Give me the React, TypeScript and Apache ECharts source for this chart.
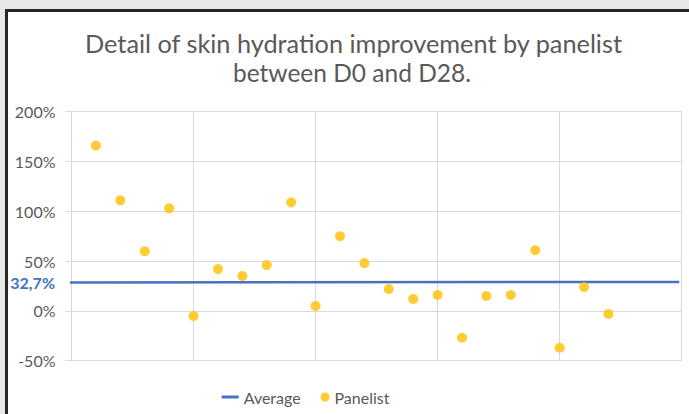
import React, { useEffect, useRef } from "react";
import * as echarts from "echarts";

const titleLines = ["Detail of skin hydration improvement by panelist", "between D0 and D28."];
const panelistIds = [1, 2, 3, 4, 5, 6, 7, 8, 9, 10, 11, 12, 13, 14, 15, 16, 17, 18, 19, 20, 21, 22];
const panelistValues = [166, 111, 60, 103, -5, 42, 35, 46, 109, 5, 75, 48, 22, 12, 16, -27, 15, 16, 61, -37, 24, -3];
const averageLineX = [-0.13, 24.9];
const averageLineY = [28.6, 29.1];
const averageLabel = "32,7%";
const yMin = -50;
const yMax = 200;
const yStep = 50;
const xMin = 0;
const xMax = 25;
const xStep = 5;

const FONT = "Lato, 'Noto Sans', sans-serif";
const GREY = "#595959";
const BLUE = "#4472C4";
const GOLD = "#FFC000";
const GRID = "#d9d9d9";

export default function App() {
  const ref = useRef<HTMLDivElement>(null);
  useEffect(() => {
    if (!ref.current) return;
    const chart = echarts.init(ref.current, undefined, { renderer: "svg" });
    const scatterData = panelistIds.map((id, i) => [id, panelistValues[i]]);
    const lineData = averageLineX.map((x, i) => [x, averageLineY[i]]);
    chart.setOption({
      animation: false,
      backgroundColor: "transparent",
      textStyle: { fontFamily: FONT },
      grid: { left: 71.5, right: 7.3, top: 111.7, bottom: 53.3, containLabel: false },
      xAxis: {
        type: "value",
        min: xMin,
        max: xMax,
        interval: xStep,
        axisLabel: { show: false },
        axisTick: { show: false },
        axisLine: { show: true, lineStyle: { color: GRID, width: 1 } },
        splitLine: { show: true, lineStyle: { color: GRID, width: 1 } },
      },
      yAxis: {
        type: "value",
        min: yMin,
        max: yMax,
        interval: yStep,
        axisLabel: {
          formatter: "{value}%",
          color: GREY,
          fontSize: 16,
          fontFamily: FONT,
          margin: 16,
        },
        axisTick: { show: true, length: 6, lineStyle: { color: GRID } },
        axisLine: { show: true, lineStyle: { color: GRID, width: 1 } },
        splitLine: { show: true, lineStyle: { color: GRID, width: 1 } },
      },
      legend: [
        {
          data: [{ name: "Average", icon: "rect" }],
          left: 221.7,
          top: 389,
          itemWidth: 17,
          itemHeight: 3,
          itemGap: 5,
          textStyle: { color: GREY, fontSize: 16, fontFamily: FONT },
          padding: 0,
          selectedMode: false,
        },
        {
          data: [{ name: "Panelist", icon: "circle" }],
          left: 320.5,
          top: 389,
          itemWidth: 9,
          itemHeight: 9,
          textStyle: { color: GREY, fontSize: 16, fontFamily: FONT },
          padding: 0,
          selectedMode: false,
        },
      ],
      graphic: [
        {
          type: "text",
          x: 353.5,
          y: 43,
          style: {
            text: titleLines[0],
            fill: GREY,
            font: `normal 25.3px ${FONT}`,
            textAlign: "center",
            textVerticalAlign: "middle",
          },
        },
        {
          type: "text",
          x: 352,
          y: 72.5,
          style: {
            text: titleLines[1],
            fill: GREY,
            font: `normal 24.5px ${FONT}`,
            textAlign: "center",
            textVerticalAlign: "middle",
          },
        },
        {
          type: "text",
          x: 55,
          y: 282.5,
          style: {
            text: averageLabel,
            fill: BLUE,
            font: `bold 16px ${FONT}`,
            textAlign: "right",
            textVerticalAlign: "middle",
          },
        },
      ],
      series: [
        {
          name: "Average",
          type: "line",
          data: lineData,
          showSymbol: false,
          symbol: "none",
          clip: false,
          lineStyle: { color: BLUE, width: 2.5 },
          itemStyle: { color: BLUE },
          z: 3,
        },
        {
          name: "Panelist",
          type: "scatter",
          data: scatterData,
          symbol: "circle",
          symbolSize: 10,
          itemStyle: { color: GOLD },
          z: 4,
        },
      ],
    });
    return () => chart.dispose();
  }, []);

  return (
    <div
      style={{
        position: "fixed",
        left: 0,
        top: 0,
        width: 689,
        height: 414,
        background: "#e7e7e8",
        overflow: "hidden",
      }}
    >
      <div
        style={{
          position: "absolute",
          left: 5,
          top: 9,
          width: 700,
          height: 420,
          background: "#ffffff",
          borderTop: "3px solid #262626",
          borderLeft: "3px solid #262626",
        }}
      />
      <div ref={ref} style={{ position: "absolute", left: 0, top: 0, width: 689, height: 414 }} />
    </div>
  );
}
